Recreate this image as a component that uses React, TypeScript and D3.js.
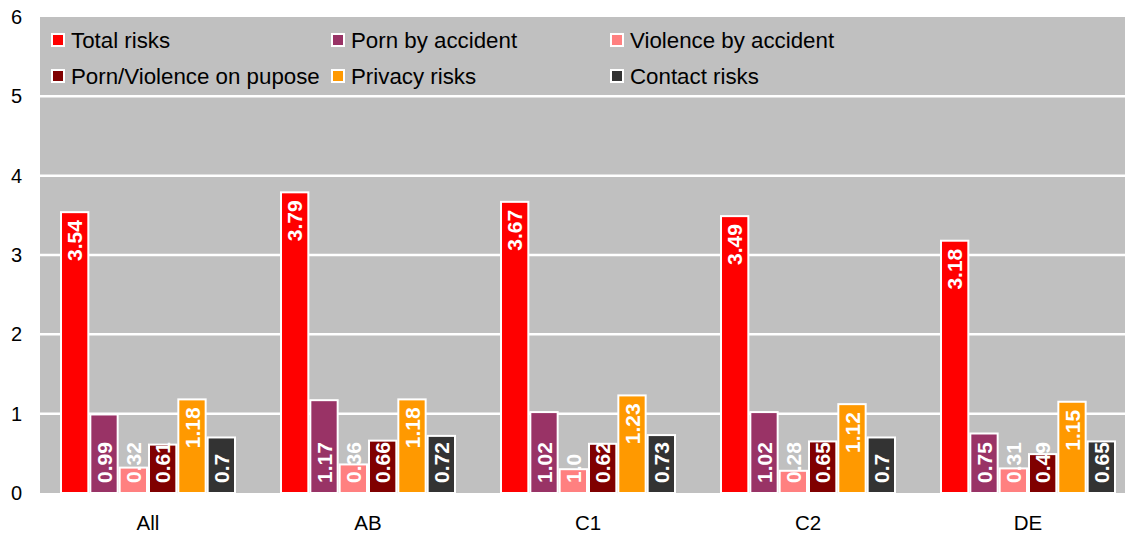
import React from "react";
import * as d3 from "d3";

const categories = ["All", "AB", "C1", "C2", "DE"];
const seriesNames = [
  "Total risks",
  "Porn by accident",
  "Violence by accident",
  "Porn/Violence on pupose",
  "Privacy risks",
  "Contact risks",
];
const seriesColors = ["#FF0000", "#993366", "#FF8080", "#800000", "#FF9900", "#333333"];

const totalRisks = [3.54, 3.79, 3.67, 3.49, 3.18];
const pornByAccident = [0.99, 1.17, 1.02, 1.02, 0.75];
const violenceByAccident = [0.32, 0.36, 0.3, 0.28, 0.31];
const pornViolenceOnPurpose = [0.61, 0.66, 0.62, 0.65, 0.49];
const privacyRisks = [1.18, 1.18, 1.23, 1.12, 1.15];
const contactRisks = [0.7, 0.72, 0.73, 0.7, 0.65];

const totalLabels = ["3.54", "3.79", "3.67", "3.49", "3.18"];
const pornLabels = ["0.99", "1.17", "1.02", "1.02", "0.75"];
const violenceLabels = ["0.32", "0.36", "1.0", "0.28", "0.31"];
const purposeLabels = ["0.61", "0.66", "0.62", "0.65", "0.49"];
const privacyLabels = ["1.18", "1.18", "1.23", "1.12", "1.15"];
const contactLabels = ["0.7", "0.72", "0.73", "0.7", "0.65"];

const yTicks = [0, 1, 2, 3, 4, 5, 6];

const seriesValues = [totalRisks, pornByAccident, violenceByAccident, pornViolenceOnPurpose, privacyRisks, contactRisks];
const seriesLabels = [totalLabels, pornLabels, violenceLabels, purposeLabels, privacyLabels, contactLabels];
const topAnchored = [true, false, false, false, true, false];

const W = 1125;
const H = 537;
const plotLeft = 40;
const plotRight = 1125;
const plotTop = 17;
const plotBottom = 493;

export default function App() {
  const x = d3.scaleBand<string>().domain(categories).range([38, 1138]).paddingInner(0.2).paddingOuter(0.1);
  const x1 = d3
    .scaleBand<number>()
    .domain(d3.range(seriesNames.length))
    .range([0, x.bandwidth()])
    .padding(0);
  const y = d3.scaleLinear().domain([0, 6]).range([plotBottom, plotTop]);

  const font = "Arial, 'Liberation Sans', sans-serif";
  const legendCols = [52, 332, 611];
  const legendRows = [40, 76];

  return (
    <svg
      width={W}
      height={H}
      style={{ position: "absolute", left: 0, top: 0, background: "#fff" }}
      fontFamily={font}
    >
      <rect x={plotLeft} y={plotTop} width={plotRight - plotLeft} height={plotBottom - plotTop} fill="#C0C0C0" />
      {yTicks
        .filter((t) => t > 0 && t < 6)
        .map((t) => (
          <line key={t} x1={plotLeft} x2={plotRight} y1={y(t)} y2={y(t)} stroke="#fff" strokeWidth={2.5} />
        ))}
      {yTicks.map((t) => (
        <text key={t} x={22} y={y(t)} dy="0.35em" textAnchor="end" fontSize={20} fill="#000">
          {t}
        </text>
      ))}
      {categories.map((c, ci) => (
        <g key={c}>
          {seriesValues.map((vals, si) => {
            const bx = (x(c) as number) + (x1(si) as number);
            const bw = x1.bandwidth();
            const top = y(vals[ci]);
            return (
              <rect
                key={si}
                x={bx + 1}
                y={top}
                width={bw - 2}
                height={plotBottom - top}
                fill={seriesColors[si]}
                stroke="#fff"
                strokeWidth={2}
              />
            );
          })}
          {seriesValues.map((vals, si) => {
            const cx = (x(c) as number) + (x1(si) as number) + x1.bandwidth() / 2;
            const top = y(vals[ci]);
            const ay = topAnchored[si] ? top + 8 : plotBottom - 10;
            return (
              <text
                key={"l" + si}
                transform={`translate(${cx},${ay}) rotate(-90)`}
                textAnchor={topAnchored[si] ? "end" : "start"}
                dy="0.36em"
                fontSize={21}
                fontWeight="bold"
                fill="#fff"
              >
                {seriesLabels[si][ci]}
              </text>
            );
          })}
          <text
            x={(x(c) as number) + x.bandwidth() / 2}
            y={530}
            textAnchor="middle"
            fontSize={20.5}
            fill="#000"
          >
            {c}
          </text>
        </g>
      ))}
      {seriesNames.map((name, i) => {
        const lx = legendCols[i % 3];
        const ly = legendRows[Math.floor(i / 3)];
        return (
          <g key={name}>
            <rect x={lx} y={ly - 6} width={12} height={12} fill={seriesColors[i]} stroke="#fff" strokeWidth={2} />
            <text x={lx + 19} y={ly} dy="0.36em" fontSize={22.3} fill="#000">
              {name}
            </text>
          </g>
        );
      })}
    </svg>
  );
}
